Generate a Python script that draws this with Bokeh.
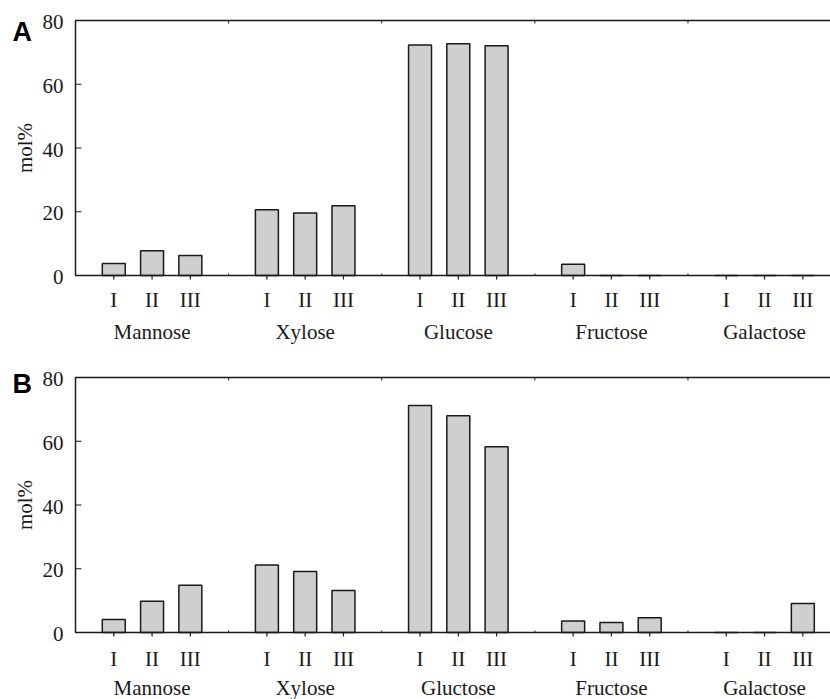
import math
from bokeh.plotting import figure
from bokeh.layouts import column
from bokeh.models import Range1d, ColumnDataSource
from bokeh.core.properties import value
from bokeh.embed import file_html
from bokeh.resources import INLINE

# ---------------- data ----------------
groups_a = ["Mannose", "Xylose", "Glucose", "Fructose", "Galactose"]
groups_b = ["Mannose", "Xylose", "Gluctose", "Fructose", "Galactose"]
subs = ["I", "II", "III"]

vals_a = [3.8, 7.8, 6.3,
          20.6, 19.6, 21.9,
          72.3, 72.7, 72.1,
          3.5, 0.0, 0.0,
          0.0, 0.0, 0.0]
vals_b = [4.1, 9.8, 14.8,
          21.2, 19.1, 13.2,
          71.2, 68.0, 58.3,
          3.6, 3.1, 4.6,
          0.0, 0.0, 9.1]

yticks = [0, 20, 40, 60, 80]
ylabel = "mol%"

# ---------------- layout constants ----------------
FONT = "Liberation Serif"
FS = "21px"
INK = "#1a1a1a"
W = 830
LEFT_PX = 75          # pixel position of the y axis
FRAME_PX = 255        # pixel height of the 0..80 axis
SX = 38.28            # px per x unit
SY = FRAME_PX / (yticks[-1] - yticks[0])   # px per y unit

xpos = []
sub_labels = []
for gi in range(len(groups_a)):
    for si in range(len(subs)):
        xpos.append(gi * 4 + si + 1)
        sub_labels.append(subs[si])
group_centers = [gi * 4 + 2 for gi in range(len(groups_a))]
separators = [gi * 4 for gi in range(1, len(groups_a))]

X0 = -LEFT_PX / SX
X1 = (W - LEFT_PX) / SX
YMIN, YMAX = yticks[0], yticks[-1]


def make_panel(vals, gnames, letter, height, top_px, letter_px, sub_px, grp_px):
    bottom_px = height - top_px - FRAME_PX
    p = figure(width=W, height=height, output_backend="svg", toolbar_location=None,
               x_range=Range1d(X0, X1),
               y_range=Range1d(YMIN - bottom_px / SY, YMAX + top_px / SY),
               x_axis_type=None, y_axis_type=None, min_border=0)
    p.outline_line_color = None
    p.grid.visible = False
    p.background_fill_color = "white"
    p.border_fill_color = "white"

    # bars
    src = ColumnDataSource(dict(x=xpos, top=vals))
    p.vbar(x="x", top="top", width=0.6, bottom=YMIN, source=src,
           fill_color="#cfcfcf", line_color=INK, line_width=1.5)

    # frame lines: top, left (y axis) and bottom (x axis)
    p.line(x=[X1, 0, 0, X1], y=[YMAX, YMAX, YMIN, YMIN],
           line_color=INK, line_width=1.5)

    # ticks
    p.ray(x=0, y=yticks, length=6, length_units="screen", angle=0,
          line_color=INK, line_width=1.2)
    p.ray(x=xpos, y=YMIN, length=4, length_units="screen", angle=-math.pi / 2,
          line_color=INK, line_width=1.2)
    p.ray(x=separators, y=YMIN, length=2, length_units="screen", angle=math.pi / 2,
          line_color=INK, line_width=1.0)
    p.ray(x=separators, y=YMAX, length=3, length_units="screen", angle=-math.pi / 2,
          line_color=INK, line_width=1.0)

    # y tick labels
    p.text(x=-12 / SX, y=[t - 1.5 / SY for t in yticks], text=[str(t) for t in yticks],
           text_font=value(FONT), text_font_size=value(FS), text_color=INK,
           text_align="right", text_baseline="middle")
    # y axis title
    p.text(x=-51 / SX, y=(YMIN + YMAX) / 2, text=[ylabel], angle=math.pi / 2,
           text_font=value(FONT), text_font_size=value(FS), text_color=INK,
           text_align="center", text_baseline="middle")
    # roman numerals
    p.text(x=xpos, y=YMIN - sub_px / SY, text=sub_labels,
           text_font=value(FONT), text_font_size=value(FS), text_color=INK,
           text_align="center", text_baseline="middle")
    # group names
    p.text(x=group_centers, y=YMIN - grp_px / SY, text=gnames,
           text_font=value(FONT), text_font_size=value(FS), text_color=INK,
           text_align="center", text_baseline="middle")
    # panel letter
    p.text(x=-63 / SX, y=YMAX - letter_px / SY, text=[letter],
           text_font=value("Liberation Sans"), text_font_size=value("27px"),
           text_font_style="bold", text_color="black",
           text_align="left", text_baseline="middle")
    return p


pa = make_panel(vals_a, groups_a, "A", 350, 20, 11.5, 24.5, 56)
pb = make_panel(vals_b, groups_b, "B", 349, 27, 6.7, 26, 55.5)

layout = column(pa, pb, spacing=0)
open("out.html", "w").write(file_html(layout, INLINE))
